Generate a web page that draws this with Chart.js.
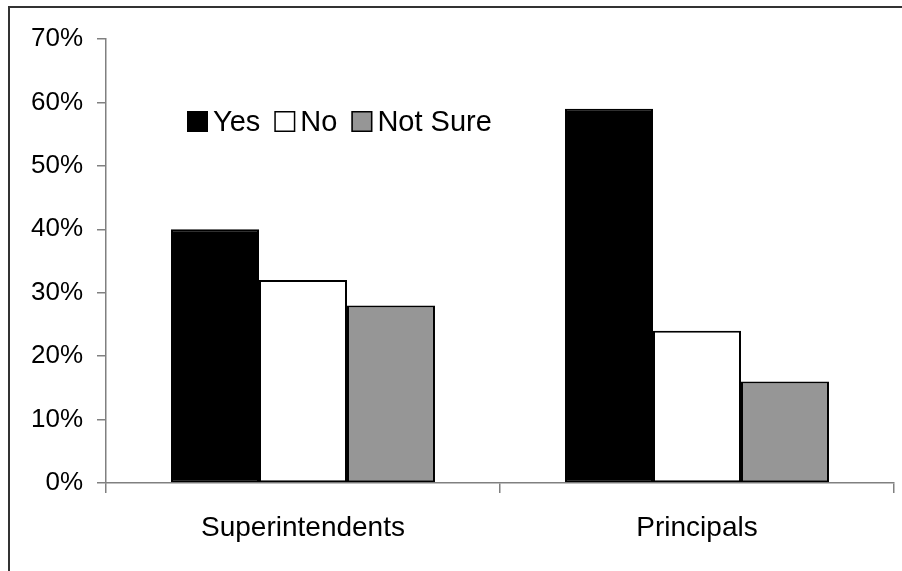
<!DOCTYPE html>
<html>
<head>
<meta charset="utf-8">
<script src="https://cdn.jsdelivr.net/npm/chart.js@4"></script>
<style>
  html, body { margin: 0; padding: 0; background: #fff; }
  #wrap { width: 902px; height: 571px; position: relative; }
</style>
</head>
<body>
<div id="wrap"><canvas id="myChart" width="902" height="571"></canvas></div>
<script>
var groups      = ['Superintendents', 'Principals'];
var yesValues   = [40, 59];
var noValues    = [32, 24];
var notSure     = [28, 16];
var yTickLabels = ['0%', '10%', '20%', '30%', '40%', '50%', '60%', '70%'];

var FONT = '"Liberation Sans", Arial, sans-serif';

// ── Frame + in-plot legend ───────────────────────────────────────────────────
var framePlugin = {
  id: 'frame',
  beforeDraw: function (chart) {
    var ctx = chart.ctx;
    ctx.save();
    ctx.strokeStyle = '#333';
    ctx.lineWidth = 2;
    ctx.beginPath();
    ctx.moveTo(9, 571);
    ctx.lineTo(9, 7);
    ctx.lineTo(902, 7);
    ctx.stroke();
    ctx.restore();
  }
};

var legendPlugin = {
  id: 'inlineLegend',
  afterDraw: function (chart) {
    var ctx = chart.ctx;
    var x = 187, y = 111, box = 21;
    ctx.save();
    ctx.font = '29px ' + FONT;
    ctx.textBaseline = 'middle';
    chart.data.datasets.forEach(function (ds) {
      ctx.fillStyle = ds.backgroundColor;
      ctx.fillRect(x, y, box, box);
      ctx.strokeStyle = '#000';
      ctx.lineWidth = 1.5;
      ctx.strokeRect(x + 0.75, y + 0.75, box - 1.5, box - 1.5);
      ctx.fillStyle = '#000';
      ctx.fillText(ds.label, x + box + 5, y + box / 2 + 1);
      x += box + 5 + ctx.measureText(ds.label).width + 14;
    });
    ctx.restore();
  }
};

var ctx = document.getElementById('myChart').getContext('2d');
var myChart = new Chart(ctx, {
  type: 'bar',
  data: {
    labels: groups,
    datasets: [
      { label: 'Yes',      data: yesValues, backgroundColor: '#000000', borderColor: '#000', borderWidth: 2, borderSkipped: false },
      { label: 'No',       data: noValues,  backgroundColor: '#ffffff', borderColor: '#000', borderWidth: 2, borderSkipped: false },
      { label: 'Not Sure', data: notSure,   backgroundColor: '#969696', borderColor: '#000', borderWidth: 2, borderSkipped: false }
    ]
  },
  options: {
    responsive: false,
    animation: false,
    layout: { padding: { top: 39, right: 8, left: 0, bottom: 0 } },
    datasets: { bar: { categoryPercentage: 0.67, barPercentage: 1 } },
    plugins: {
      legend: { display: false },
      tooltip: { enabled: false }
    },
    scales: {
      x: {
        offset: true,
        grid: { offset: true, drawOnChartArea: false, drawTicks: true, tickLength: 10, color: '#808080', lineWidth: 1.5 },
        border: { color: '#808080', width: 1.5 },
        ticks: { color: '#000', font: { family: FONT, size: 28 }, padding: 18 },
        afterFit: function (scale) { scale.height = 88; }
      },
      y: {
        min: 0,
        max: 70,
        grid: { drawOnChartArea: false, drawTicks: true, tickLength: 9, color: '#808080', lineWidth: 1.5 },
        border: { color: '#808080', width: 1.5 },
        ticks: {
          stepSize: 10,
          color: '#000',
          padding: 14,
          font: { family: FONT, size: 26 },
          callback: function (v) { return yTickLabels[Math.round(v / 10)]; }
        },
        afterFit: function (scale) { scale.width = 106; }
      }
    }
  },
  plugins: [framePlugin, legendPlugin]
});
</script>
</body>
</html>
